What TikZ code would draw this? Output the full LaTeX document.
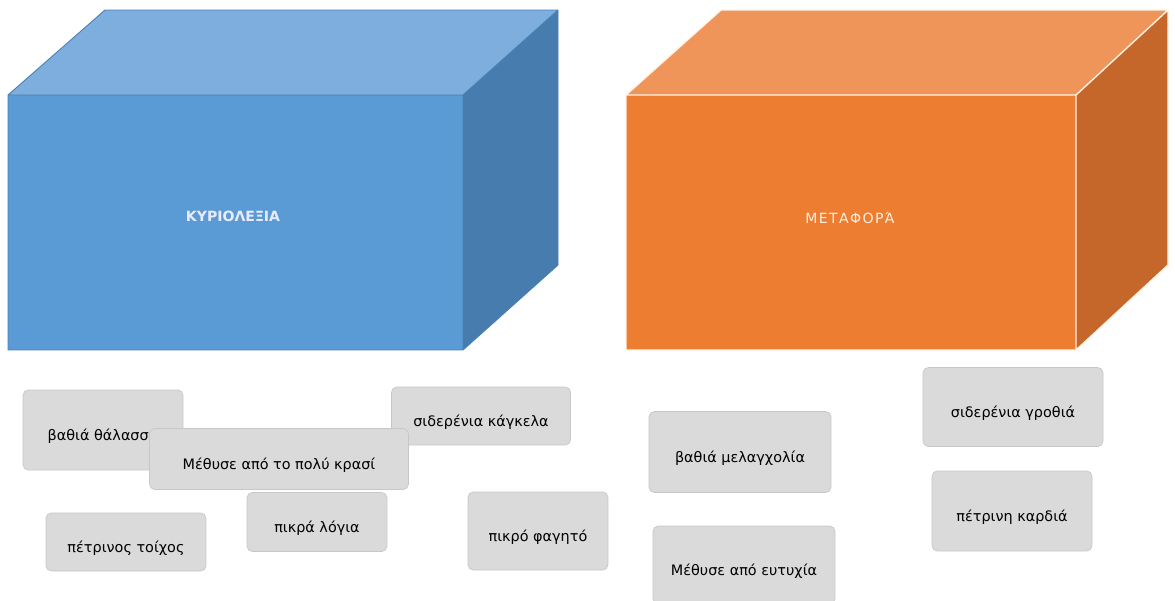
\documentclass[tikz,border=0pt]{standalone}
\usepackage{fontspec}
\setmainfont{DejaVu Sans}
\definecolor{blueFront}{HTML}{5B9BD5}
\definecolor{blueTop}{HTML}{7DAEDD}
\definecolor{blueSide}{HTML}{467CAE}
\definecolor{blueEdge}{HTML}{4A7FB5}
\definecolor{orangeFront}{HTML}{ED7D31}
\definecolor{orangeTop}{HTML}{F0955A}
\definecolor{orangeSide}{HTML}{C5672A}
\definecolor{cardGray}{HTML}{DADADA}
\begin{document}
\begin{tikzpicture}[x=0.02cm, y=-0.02cm,
    card/.style 2 args={draw=black!22, fill=cardGray, rounded corners=3pt,
      minimum width=#1cm, minimum height=#2cm, inner sep=0pt,
      text height=13.5pt, text depth=1.5pt, font=\fontsize{8.2}{10}\selectfont},
    boxtitle/.style={font=\fontsize{8}{10}\selectfont\addfontfeature{LetterSpace=10}}]
  \useasboundingbox (0,0) rectangle (1175,600);

  % blue box
  \fill[blueTop] (8,95) -- (105,10) -- (558,10) -- (463,95) -- cycle;
  \fill[blueSide] (463,95) -- (558,10) -- (558,265) -- (463,350) -- cycle;
  \fill[blueFront] (8,95) rectangle (463,350);
  \draw[blueEdge, line width=0.5pt, line join=round] (8,95) -- (105,10) -- (558,10) -- (558,265) -- (463,350) -- (8,350) -- cycle
    (8,95) -- (463,95) -- (558,10) (463,95) -- (463,350);
  \node[boxtitle, font=\fontsize{8}{10}\selectfont\bfseries, text=blue!8] (kyr) at (233,216) {ΚΥΡΙΟΛΕΞΙΑ};

  % orange box
  \fill[orangeTop] (626,95) -- (721,10) -- (1168,10) -- (1076,95) -- cycle;
  \fill[orangeSide] (1076,95) -- (1168,10) -- (1168,265) -- (1076,350) -- cycle;
  \fill[orangeFront] (626,95) rectangle (1076,350);
  \draw[orange!10, line width=0.8pt, line join=round] (626,95) -- (721,10) -- (1168,10) -- (1168,265) -- (1076,350) -- (626,350) -- cycle
    (626,95) -- (1076,95) -- (1168,10) (1076,95) -- (1076,350);
  \node[boxtitle, text=orange!12] (met) at (850,218) {ΜΕΤΑΦΟΡΆ};

  % cards
  \node[card={3.2}{1.6}] (thalassa) at (103,430) {βαθιά θάλασσα};
  \node[card={3.58}{1.16}] (kagkela) at (481,416) {σιδερένια κάγκελα};
  \node[card={5.18}{1.22}] (krasi) at (279,459) {Μέθυσε από το πολύ κρασί};
  \node[card={3.2}{1.16}] (toixos) at (126,542) {πέτρινος τοίχος};
  \node[card={2.8}{1.18}] (logia) at (317,522) {πικρά λόγια};
  \node[card={2.8}{1.56}] (fagito) at (538,531) {πικρό φαγητό};
  \node[card={3.64}{1.62}] (melagxolia) at (740,452) {βαθιά μελαγχολία};
  \node[card={3.64}{1.56}] (eftyxia) at (744,565) {Μέθυσε από ευτυχία};
  \node[card={3.6}{1.58}] (grothia) at (1013,407) {σιδερένια γροθιά};
  \node[card={3.2}{1.6}] (kardia) at (1012,511) {πέτρινη καρδιά};
\end{tikzpicture}
\end{document}
